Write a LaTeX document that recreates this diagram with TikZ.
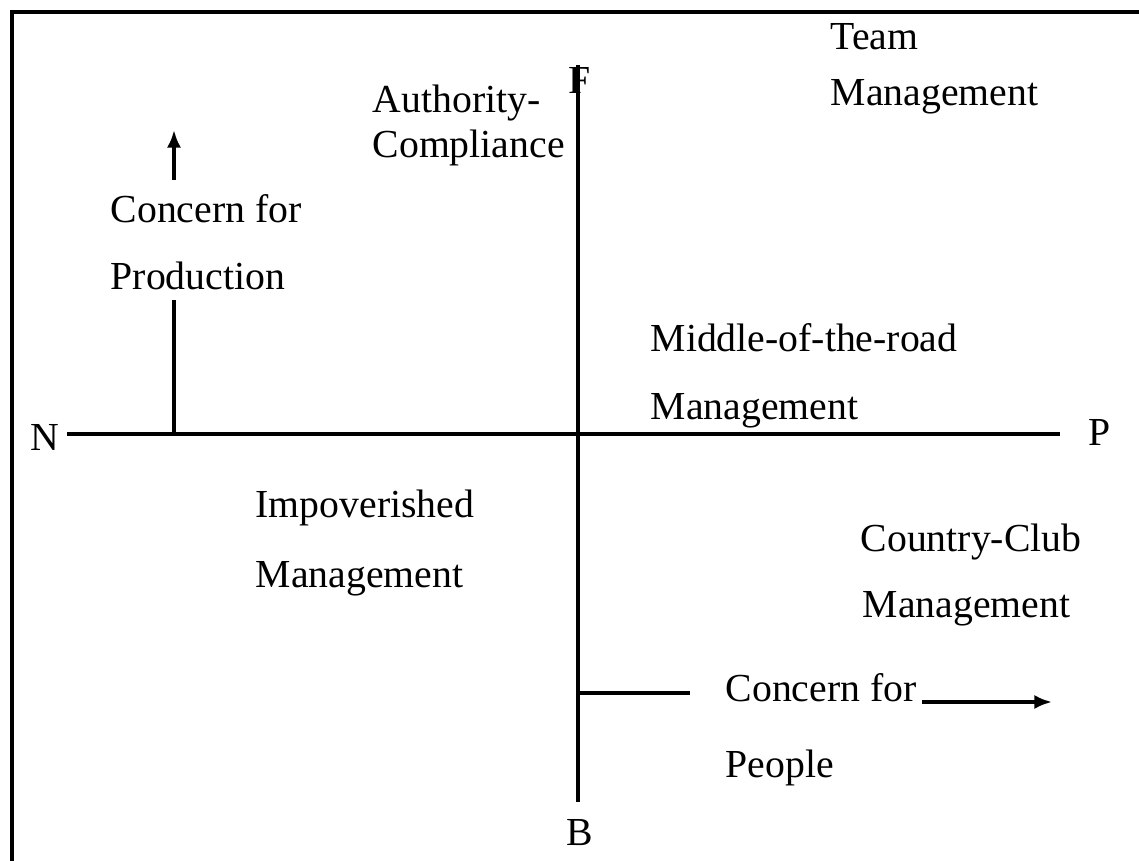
\documentclass[tikz,border=0pt]{standalone}
\usepackage{fontspec}
\setmainfont{Liberation Serif}
\usetikzlibrary{arrows.meta}

\begin{document}
\begin{tikzpicture}[x = 0.01cm, y = -0.01cm,
	every node/.style = {font = \fontsize{11.3}{13}\selectfont, inner sep = 0pt},
	gridlabel/.style = {anchor = base west},
	axisline/.style = {line width = 1pt},
	upshot/.style = {line width = 1pt, -{Latex[length = 5pt, width = 4pt]}}]

	\useasboundingbox (0, 0) rectangle (1139, 861);

	% Frame (only top and left edges show)
	
	\draw [line width = 1.3pt] (1139, 12) -- (12, 12) -- (12, 861);
	
	% Axis end labels
	
	\node (N) at (45, 437) {N};
	\node (P) at (1100, 432) {P};
	\node (F) at (580, 80) {F};
	\node (B) at (580, 833) {B};
	
	% Axes
	
	\coordinate (westEnd) at (67, 434);
	\coordinate (eastEnd) at (1060, 434);
	\coordinate (northEnd) at (578, 65);
	\coordinate (southEnd) at (578, 802);
	
	\draw [axisline] (westEnd) -- (eastEnd);
	\draw [axisline] (northEnd) -- (southEnd);
	
	% Style labels
	
	\foreach \x/\y/\s/\n in {830/50/Team/teamA, 830/106/Management/teamB,
			372/113/Authority-/authA, 372/158/Compliance/authB,
			110/223/Concern for/prodA, 110/290/Production/prodB,
			650/352/Middle-of-the-road/midA, 650/420/Management/midB,
			255/518/Impoverished/impA, 255/588/Management/impB,
			860/552/Country-Club/clubA, 862/618/Management/clubB,
			725/702/Concern for/peopA, 725/777/People/peopB}
		\node (\n) [gridlabel] at (\x, \y) {\s};
		
	% Concern for production
	
	\coordinate (prodFoot) at (174, 434);
	\coordinate (prodKnee) at (174, 300);
	\coordinate (prodTail) at (174, 180);
	\coordinate (prodTip) at (174, 130);
	
	\draw [axisline] (prodFoot) -- (prodKnee);
	\draw [upshot] (prodTail) -- (prodTip);
	
	% Concern for people
	
	\coordinate (peopFoot) at (578, 693);
	\coordinate (peopKnee) at (690, 693);
	\coordinate (peopTail) at (922, 702);
	\coordinate (peopTip) at (1052, 702);
	
	\draw [axisline] (peopFoot) -- (peopKnee);
	\draw [upshot] (peopTail) -- (peopTip);

\end{tikzpicture}
\end{document}
